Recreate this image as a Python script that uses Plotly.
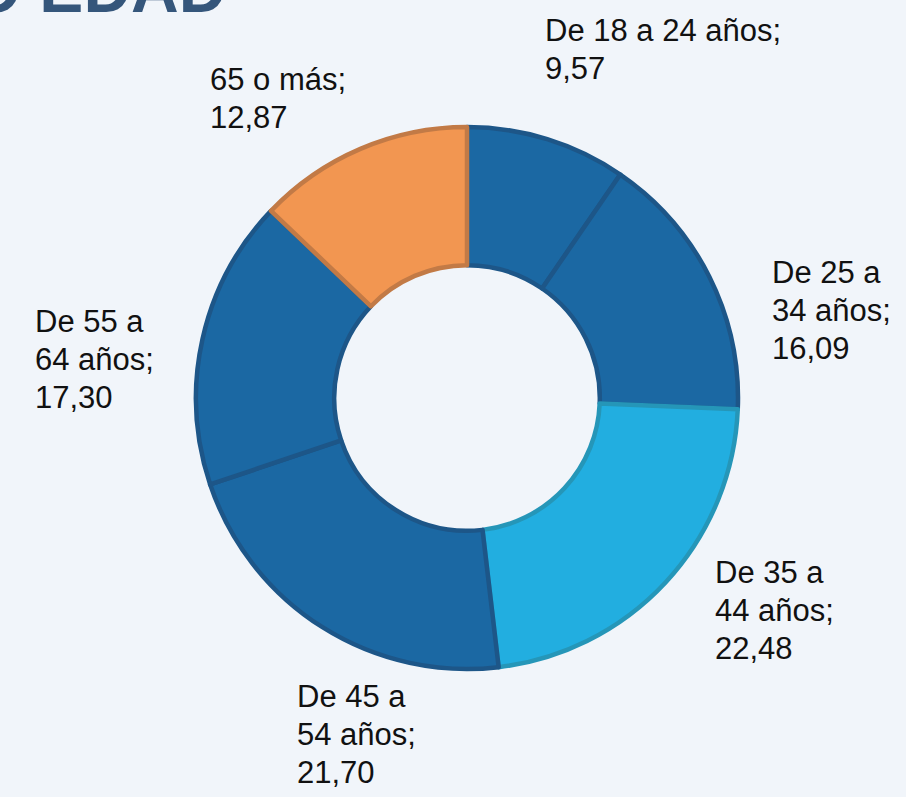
import plotly.graph_objects as go

categories = ["De 18 a 24 años", "De 25 a 34 años", "De 35 a 44 años",
              "De 45 a 54 años", "De 55 a 64 años", "65 o más"]
values = [9.57, 16.09, 22.48, 21.70, 17.30, 12.87]
label_lines = [["De 18 a 24 años;"], ["De 25 a", "34 años;"], ["De 35 a", "44 años;"],
               ["De 45 a", "54 años;"], ["De 55 a", "64 años;"], ["65 o más;"]]
title_text = "GRUPO EDAD"

fill_colors = ["#1b68a3", "#1b68a3", "#22aee0", "#1b68a3", "#1b68a3", "#f29651"]
line_colors = ["#1d5688", "#1d5688", "#2596b8", "#1d5688", "#1d5688", "#c27a46"]

W, H = 906, 797
L, R, T, B = 196, 168, 127, 128
pw, ph = W - L - R, H - T - B

def px(x):
    return (x - L) / pw

def py(y):
    return (H - B - y) / ph

# label anchor positions in pixels: left edge, vertical centre of first line
label_pos = [(543, 31), (770, 272), (713, 572), (295, 696), (33, 321), (208, 80)]
line_step = 38

fig = go.Figure(go.Pie(
    labels=categories,
    values=values,
    hole=0.49,
    sort=False,
    direction="clockwise",
    rotation=0,
    textinfo="none",
    hoverinfo="label+value",
    marker=dict(colors=fill_colors, line=dict(color=line_colors, width=4.5)),
    showlegend=False,
))

for lines, v, (x, y) in zip(label_lines, values, label_pos):
    all_lines = lines + [f"{v:.2f}".replace(".", ",")]
    for i, ln in enumerate(all_lines):
        fig.add_annotation(
            x=px(x), y=py(y + i * line_step), xref="paper", yref="paper",
            xanchor="left", yanchor="middle", align="left",
            text=ln, showarrow=False,
            font=dict(family="Liberation Sans, Arial, sans-serif", size=31, color="#111111"),
        )

fig.add_annotation(
    x=px(228), y=py(28), xref="paper", yref="paper",
    xanchor="right", yanchor="bottom",
    text=f"<b>{title_text}</b>", showarrow=False,
    font=dict(family="Liberation Sans, Arial, sans-serif", size=66, color="#35567b"),
)

fig.update_layout(
    width=W, height=H,
    margin=dict(l=L, r=R, t=T, b=B),
    paper_bgcolor="#f1f5fa",
    plot_bgcolor="#f1f5fa",
)

fig.write_html(
    "out.html",
    config={"displayModeBar": False},
    post_script="document.body.style.margin='0';document.body.style.padding='0';"
                "document.body.style.background='#f1f5fa';",
)
